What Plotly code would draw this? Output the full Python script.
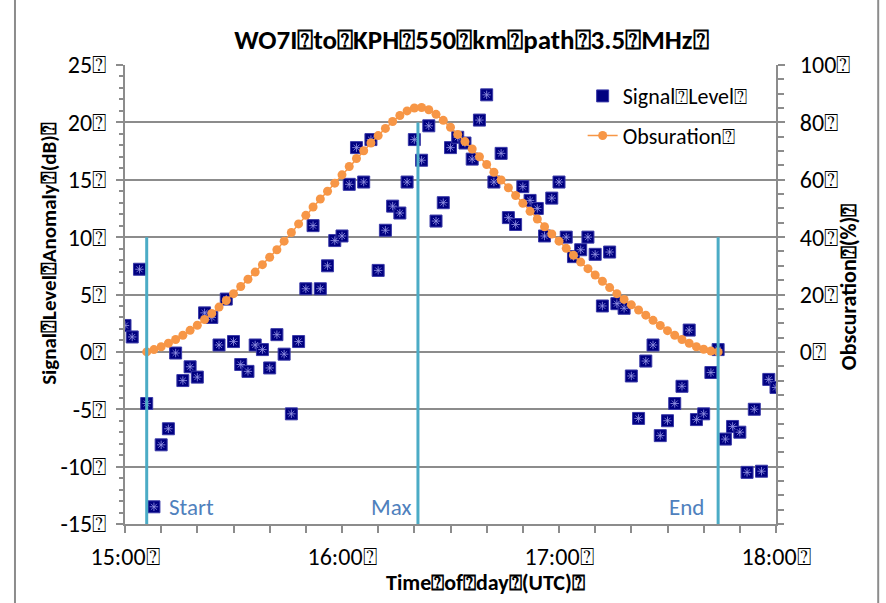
import plotly.graph_objects as go

BOX = "\u2370"

# Signal level anomaly (dB), one reading every 2 minutes from 15:00 UTC
sig_minutes = list(range(0, 182, 2))
sig_db = [
    2.3, 1.3, 7.2, -4.5, -13.5, -8.1, -6.7, -0.1, -2.5, -1.3,
    -2.2, 3.4, 3.0, 0.6, 4.6, 0.9, -1.1, -1.7, 0.6, 0.2,
    -1.4, 1.5, -0.2, -5.4, 0.9, 5.5, 11.0, 5.5, 7.5, 9.7,
    10.1, 14.6, 17.8, 14.8, 18.5, 7.1, 10.6, 12.7, 12.1, 14.8,
    18.5, 16.7, 19.7, 11.4, 13.0, 17.8, 18.7, 18.2, 16.8, 20.2,
    22.4, 14.8, 17.3, 11.7, 11.1, 14.4, 13.2, 12.5, 10.1, 13.4,
    14.8, 10.0, 8.3, 8.9, 10.0, 8.5, 4.0, 8.7, 4.2, 3.8,
    -2.1, -5.8, -0.8, 0.6, -7.3, -6.0, -4.5, -3.0, 1.9, -5.9,
    -5.4, -1.8, 0.2, -7.6, -6.5, -7.0, -10.5, -5.0, -10.4, -2.4,
    -3.1,
]

# Eclipse obscuration (%), every 2 minutes from first to last contact
obs_minutes = list(range(6, 166, 2))
obs_pct = [
    0.0, 0.8, 1.8, 3.0, 4.3, 5.8, 7.5, 9.3, 11.3, 13.4,
    15.6, 17.9, 20.3, 22.8, 25.3, 27.8, 30.4, 33.0, 35.6, 38.6,
    41.6, 44.6, 47.6, 50.5, 53.3, 56.0, 58.8, 61.7, 64.6, 67.4,
    70.1, 72.8, 75.4, 77.9, 80.3, 82.4, 84.0, 85.0, 85.2, 84.4,
    82.8, 80.7, 78.3, 75.8, 73.3, 70.7, 68.0, 65.3, 62.6, 59.9,
    57.2, 54.5, 51.8, 49.0, 46.3, 43.6, 41.1, 38.6, 36.1, 33.7,
    31.3, 29.0, 26.8, 24.6, 22.4, 20.3, 18.3, 16.4, 14.6, 12.8,
    11.0, 9.2, 7.4, 5.8, 4.3, 3.0, 1.8, 0.9, 0.3, 0.0,
]

# Eclipse phases: label, minutes after 15:00, marker-line top (dB)
event_labels = ["Start", "Max", "End"]
event_minutes = [6, 81, 164]
event_tops = [10, 20, 10]

x_tickvals = [0, 60, 120, 180]
x_ticktext = ["15:00" + BOX, "16:00" + BOX, "17:00" + BOX, "18:00" + BOX]
y_tickvals = [-15, -10, -5, 0, 5, 10, 15, 20, 25]
y_ticktext = ["-15" + BOX, "-10" + BOX, "-5" + BOX, "0" + BOX, "5" + BOX,
              "10" + BOX, "15" + BOX, "20" + BOX, "25" + BOX]
y2_tickvals = [0, 20, 40, 60, 80, 100]
y2_ticktext = ["0" + BOX, "20" + BOX, "40" + BOX, "60" + BOX, "80" + BOX, "100" + BOX]

FONT = "Carlito, Calibri, Lato, sans-serif"
GRAY = "#8c8c8c"
NAVY = "#000080"
ORANGE = "#F79646"
TEAL = "#4BACC6"
BLUE_TXT = "#4F81BD"

fig = go.Figure()

fig.add_trace(go.Scatter(
    x=sig_minutes, y=sig_db, mode="markers", name="Signal" + BOX + "Level" + BOX,
    marker=dict(symbol="square", size=12, color=NAVY,
                line=dict(color="#3a3aa8", width=1)),
    legendgroup="sig", yaxis="y",
))
fig.add_trace(go.Scatter(
    x=sig_minutes, y=sig_db, mode="markers", showlegend=False, hoverinfo="skip",
    marker=dict(symbol="asterisk-open", size=7, color="rgba(150,150,230,0.8)",
                line=dict(color="rgba(150,150,230,0.8)", width=1)),
    yaxis="y",
))
fig.add_trace(go.Scatter(
    x=obs_minutes, y=obs_pct, mode="lines+markers", name="Obsuration" + BOX,
    line=dict(color=ORANGE, width=1.5),
    marker=dict(symbol="circle", size=9, color=ORANGE),
    legendgroup="obs", yaxis="y2",
))

shapes = []
for m, top in zip(event_minutes, event_tops):
    shapes.append(dict(type="line", xref="x", yref="y", x0=m, x1=m, y0=-15, y1=top,
                       line=dict(color=TEAL, width=3), layer="above"))
# outer chart frame
for px in (-0.169, 1.157):
    shapes.append(dict(type="line", xref="paper", yref="paper", x0=px, x1=px,
                       y0=-0.2, y1=1.2, line=dict(color=GRAY, width=2)))

annotations = []
anchors = ["left", "right", "right"]
shifts = [20, -5, -12]
for lab, m, anc, sh in zip(event_labels, event_minutes, anchors, shifts):
    annotations.append(dict(x=m, y=-13.5, xref="x", yref="y", text=lab, showarrow=False,
                            xanchor=anc, xshift=sh, yanchor="middle",
                            font=dict(family=FONT, size=23, color=BLUE_TXT)))

annotations += [
    dict(x=-0.118, y=0.589, xref="paper", yref="paper", textangle=-90, showarrow=False,
         xanchor="center", yanchor="middle",
         text="<b>Signal" + BOX + "Level" + BOX + "Anomaly" + BOX + "(dB)" + BOX + "</b>",
         font=dict(family=FONT, size=21, color="black")),
    dict(x=1.1106, y=0.516, xref="paper", yref="paper", textangle=-90, showarrow=False,
         xanchor="center", yanchor="middle",
         text="<b>Obscuration" + BOX + "(%)" + BOX + "</b>",
         font=dict(family=FONT, size=22, color="black")),
    dict(x=0.553, y=-0.1285, xref="paper", yref="paper", showarrow=False,
         xanchor="center", yanchor="middle",
         text="<b>Time" + BOX + "of" + BOX + "day" + BOX + "(UTC)" + BOX + "</b>",
         font=dict(family=FONT, size=22, color="black")),
]

fig.update_layout(
    width=886, height=603,
    margin=dict(l=125, r=110, t=65, b=79),
    paper_bgcolor="white", plot_bgcolor="white",
    font=dict(family=FONT, size=24, color="black"),
    title=dict(text="<b>WO7I" + BOX + "to" + BOX + "KPH" + BOX + "550" + BOX + "km" + BOX
                    + "path" + BOX + "3.5" + BOX + "MHz" + BOX + "</b>",
               x=0.532, xref="container", xanchor="center",
               y=0.934, yref="container", yanchor="middle",
               font=dict(family=FONT, size=27, color="black")),
    xaxis=dict(range=[0, 180], tickvals=x_tickvals, ticktext=x_ticktext,
               showgrid=False, zeroline=False, showline=True, linecolor=GRAY, linewidth=2,
               ticks="outside", ticklen=7, tickcolor=GRAY, tickwidth=2,
               ticklabelstandoff=3,
               minor=dict(dtick=10, tick0=0, ticks="outside", ticklen=7,
                          tickcolor=GRAY, tickwidth=2, showgrid=False),
               tickfont=dict(family=FONT, size=24)),
    yaxis=dict(range=[-15, 25], tickvals=y_tickvals, ticktext=y_ticktext,
               showgrid=True, gridcolor=GRAY, gridwidth=2, zeroline=False,
               showline=True, linecolor=GRAY, linewidth=2,
               ticks="outside", ticklen=7, tickcolor=GRAY, tickwidth=2,
               ticklabelstandoff=5,
               minor=dict(dtick=1, tick0=0, ticks="outside", ticklen=4,
                          tickcolor=GRAY, tickwidth=1.5, showgrid=False),
               tickfont=dict(family=FONT, size=24)),
    yaxis2=dict(range=[-60, 100], overlaying="y", side="right",
                tickvals=y2_tickvals, ticktext=y2_ticktext,
                showgrid=False, zeroline=False, showline=True, linecolor=GRAY, linewidth=2,
                ticks="outside", ticklen=7, tickcolor=GRAY, tickwidth=2,
                ticklabelstandoff=10,
                minor=dict(dtick=5, tick0=0, ticks="outside", ticklen=6,
                           tickcolor=GRAY, tickwidth=1.5, showgrid=False),
                tickfont=dict(family=FONT, size=24)),
    legend=dict(x=0.703, y=0.978, xanchor="left", yanchor="top",
                bgcolor="rgba(0,0,0,0)", font=dict(family=FONT, size=22),
                tracegroupgap=8),
    shapes=shapes, annotations=annotations, showlegend=True,
)

fig.write_html("out.html")
